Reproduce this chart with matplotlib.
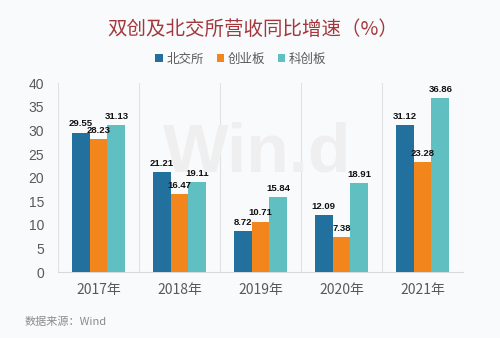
import matplotlib.pyplot as plt
import numpy as np

plt.rcParams['font.family'] = ['Noto Sans CJK SC', 'DejaVu Sans']

years = ['2017年', '2018年', '2019年', '2020年', '2021年']
series_names = ['北交所', '创业板', '科创板']
bse = [29.55, 21.21, 8.72, 12.09, 31.12]
chinext = [28.23, 16.47, 10.71, 7.38, 23.28]
star = [31.13, 19.11, 15.84, 18.91, 36.86]
yticks = [0, 5, 10, 15, 20, 25, 30, 35, 40]

colors = ['#21709e', '#f2861c', '#60bfc0']
bg = '#f9fafc'

fig = plt.figure(figsize=(5.0, 3.38), dpi=100, facecolor=bg)
ax = fig.add_axes([0.116, 0.195, 0.81, 0.559], facecolor=bg)

x = np.arange(len(years))
w = 0.222
for i, (vals, name, c) in enumerate(zip([bse, chinext, star], series_names, colors)):
    pos = x + (i - 1) * w
    ax.bar(pos, vals, width=w, color=c, label=name, zorder=3)
    for xp, v in zip(pos, vals):
        ax.annotate(f'{v:.2f}', (xp, v), xytext=(0, 3), textcoords='offset points',
                    ha='center', va='bottom', fontsize=6.8, fontweight='bold',
                    family='Liberation Sans', color='#111111', zorder=5)

ax.set_xlim(-0.5, len(years) - 0.5)
ax.set_ylim(0, 40)
ax.set_yticks(yticks)
ax.set_yticklabels([str(t) for t in yticks], color='#595959', fontsize=10,
                   family='Liberation Sans')
ax.set_xticks(x)
ax.set_xticklabels(years, color='#595959', fontsize=10)
ax.tick_params(axis='y', length=0, pad=10)
ax.tick_params(axis='x', length=0, pad=8)

# vertical separators between categories
for b in np.arange(-0.5, len(years), 1.0):
    ax.axvline(b, color='#e2e2e2', lw=0.8, zorder=1)
for s in ['top', 'right', 'left']:
    ax.spines[s].set_visible(False)
ax.spines['bottom'].set_color('#d9d9d9')
ax.spines['bottom'].set_linewidth(0.8)

# watermark
fig.text(0.515, 0.545, 'Win.d', ha='center', va='center', fontsize=50,
         fontweight='bold', family='Liberation Sans', color='#efefef', zorder=0)

fig.text(0.506, 0.912, '双创及北交所营收同比增速（%）', ha='center', va='center',
         fontsize=14, color='#a3383c')

fig.legend(loc='center', bbox_to_anchor=(0.482, 0.825), ncol=3, frameon=False,
           fontsize=9, handlelength=0.6, handleheight=0.6, handletextpad=0.3,
           columnspacing=1.0, labelcolor='#595959')

fig.text(0.05, 0.047, '数据来源：Wind', ha='left', va='center', fontsize=8,
         color='#8c8c8c')

fig.savefig('out.png', dpi=100, facecolor=bg)
